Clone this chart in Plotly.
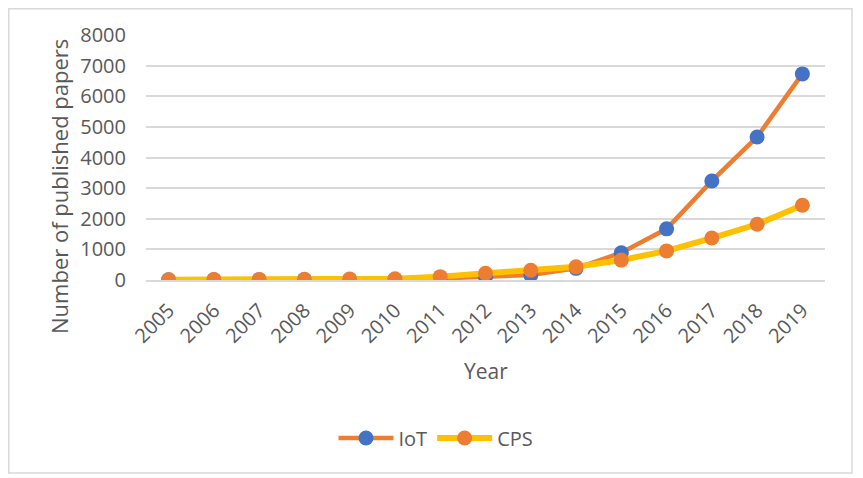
import plotly.graph_objects as go

years = ["2005", "2006", "2007", "2008", "2009", "2010", "2011", "2012",
         "2013", "2014", "2015", "2016", "2017", "2018", "2019"]
iot = [5, 8, 10, 12, 15, 20, 50, 110, 160, 380, 890, 1670, 3235, 4670, 6730]
cps = [10, 20, 20, 25, 30, 40, 110, 220, 320, 430, 650, 950, 1370, 1820, 2440]
y_ticks = [0, 1000, 2000, 3000, 4000, 5000, 6000, 7000, 8000]

TXT = "#595959"
FONT = "Open Sans"

# page has an 8px body margin, so figure is 8px smaller and positions shifted
W, H = 855, 470
L, T = 138, 27
PW, PH = 679, 245
R = W - L - PW
B = H - T - PH


def px(xp):  # page x -> paper
    return (xp - 8 - L) / PW


def py(yp):  # page y -> paper
    return (T + PH - (yp - 8)) / PH


fig = go.Figure()
fig.add_trace(go.Scatter(
    x=years, y=iot, name="IoT", mode="lines+markers",
    line=dict(color="#ED7D31", width=4.5),
    marker=dict(color="#4472C4", size=15),
))
fig.add_trace(go.Scatter(
    x=years, y=cps, name="CPS", mode="lines+markers",
    line=dict(color="#FFC000", width=6),
    marker=dict(color="#ED7D31", size=15),
))

fig.update_layout(
    width=W, height=H,
    margin=dict(l=L, r=R, t=T, b=B, pad=0),
    paper_bgcolor="white", plot_bgcolor="white",
    font=dict(family=FONT, color=TXT, size=20),
    showlegend=True,
    legend=dict(orientation="h", x=px(436), y=py(438), xanchor="center", yanchor="middle",
                font=dict(size=20, color=TXT), itemwidth=55, traceorder="normal"),
    xaxis=dict(type="category", range=[-0.5, len(years) - 0.5], tickangle=-45,
               showgrid=False, showline=True,
               linecolor="#D9D9D9", linewidth=1.5, ticks="", tickfont=dict(size=20),
               ticklabelstandoff=9),
    yaxis=dict(range=[0, 8000], tickvals=y_ticks, showgrid=True, gridcolor="#D9D9D9",
               gridwidth=1.5, zeroline=False, showline=False, ticks="",
               tickfont=dict(size=20), ticklabelstandoff=19),
    annotations=[
        dict(text="Year", xref="paper", yref="paper", x=px(486), y=py(371),
             showarrow=False, xanchor="center", yanchor="middle",
             font=dict(size=21, color=TXT)),
        dict(text="Number of published papers", xref="paper", yref="paper",
             x=px(59), y=py(187), textangle=-90,
             showarrow=False, xanchor="center", yanchor="middle",
             font=dict(size=22, color=TXT)),
    ],
    shapes=[dict(type="rect", xref="paper", yref="paper",
                 x0=px(8.75), x1=px(852),
                 y0=py(473), y1=py(8.75),
                 line=dict(color="#D9D9D9", width=1.5), fillcolor="rgba(0,0,0,0)",
                 layer="below")],
)

fig.write_html("out.html")
